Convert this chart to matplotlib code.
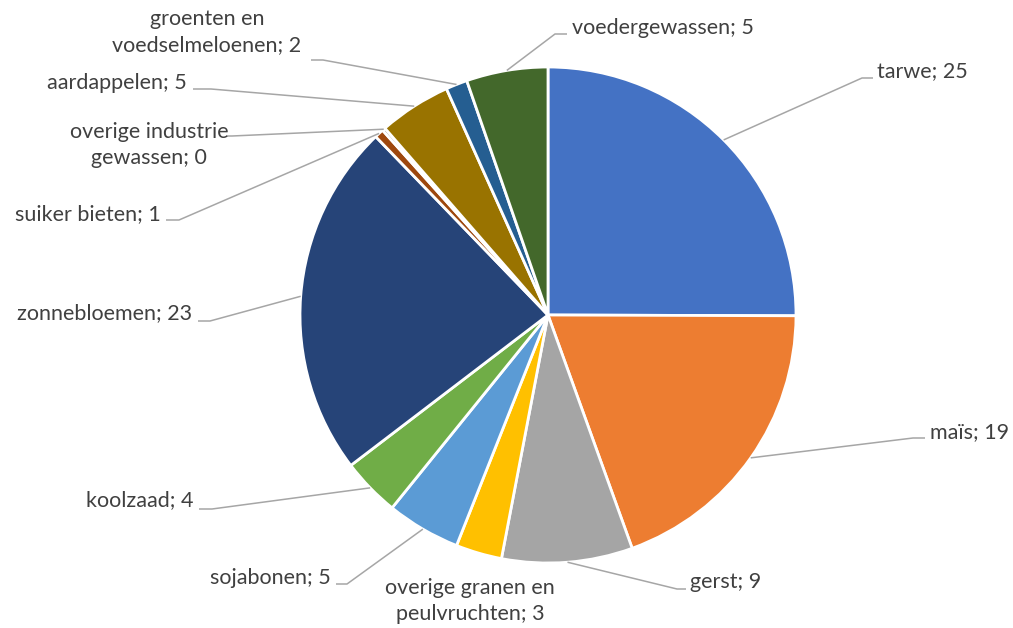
import numpy as np
import matplotlib
matplotlib.use('Agg')
import matplotlib.pyplot as plt

# gewassen en aandeel (%), rechtsom vanaf 12 uur
gewassen = ['tarwe', 'maïs', 'gerst', 'overige granen en\npeulvruchten', 'sojabonen',
            'koolzaad', 'zonnebloemen', 'suiker bieten', 'overige industrie\ngewassen',
            'aardappelen', 'groenten en\nvoedselmeloenen', 'voedergewassen']
aandeel = [25, 19.4, 8.5, 3.0, 4.8, 3.8, 23.1, 0.6, 0.2, 4.7, 1.4, 5.3]
getoond = [25, 19, 9, 3, 5, 4, 23, 1, 0, 5, 2, 5]
kleuren = ['#4472C4', '#ED7D31', '#A5A5A5', '#FFC000', '#5B9BD5', '#70AD47',
           '#264478', '#9E480E', '#636363', '#997300', '#255E91', '#43682B']

# label layout in pixels: (knik x, knik y, eind x, tekst x, tekst y, uitlijning)
layout = [
    (862, 78, 873, 877, 71, 'left'),
    (913, 438, 925, 930, 432, 'left'),
    (677, 589, 686, 690, 582, 'left'),
    (None, None, None, 470, 601, 'center'),
    (347, 584, 336, 331, 578, 'right'),
    (212, 509, 199, 193, 500, 'right'),
    (210, 321, 198, 192, 313, 'right'),
    (179, 220, 166, 161, 214, 'right'),
    (232, 136, 226, 149, 145, 'center'),
    (211, 89, 193, 187, 83, 'right'),
    (323, 60, 311, 207, 32, 'center'),
    (555, 34, 567, 572, 28, 'left'),
]

cx, cy, r = 548, 315, 248

fig = plt.figure(figsize=(10.13, 6.28), dpi=100)
ax = fig.add_axes([0, 0, 1, 1])

# y-as loopt omlaag (pixels), dus -90 is boven en "counterclock" is visueel rechtsom
wedges, _ = ax.pie(aandeel, colors=kleuren, startangle=-90, counterclock=True,
                   center=(cx, cy), radius=r, frame=True,
                   wedgeprops=dict(edgecolor='white', linewidth=2))
ax.set_xlim(0, 1013)
ax.set_ylim(628, 0)
ax.set_aspect('equal')
ax.axis('off')

for w, naam, val, lay in zip(wedges, gewassen, getoond, layout):
    kx, ky, ex, tx, ty, ha = lay
    ang = np.deg2rad((w.theta1 + w.theta2) / 2)
    px, py = cx + r * np.cos(ang), cy + r * np.sin(ang)
    if kx is not None:
        ax.plot([px, kx, ex], [py, ky, ky], color='#A6A6A6', lw=1.1,
                solid_capstyle='butt')
    ax.text(tx, ty, f'{naam}; {val}', ha=ha, va='center', fontsize=15.5,
            family='Lato', color='#404040', linespacing=1.38, multialignment='center')

fig.savefig('out.png', dpi=100)
